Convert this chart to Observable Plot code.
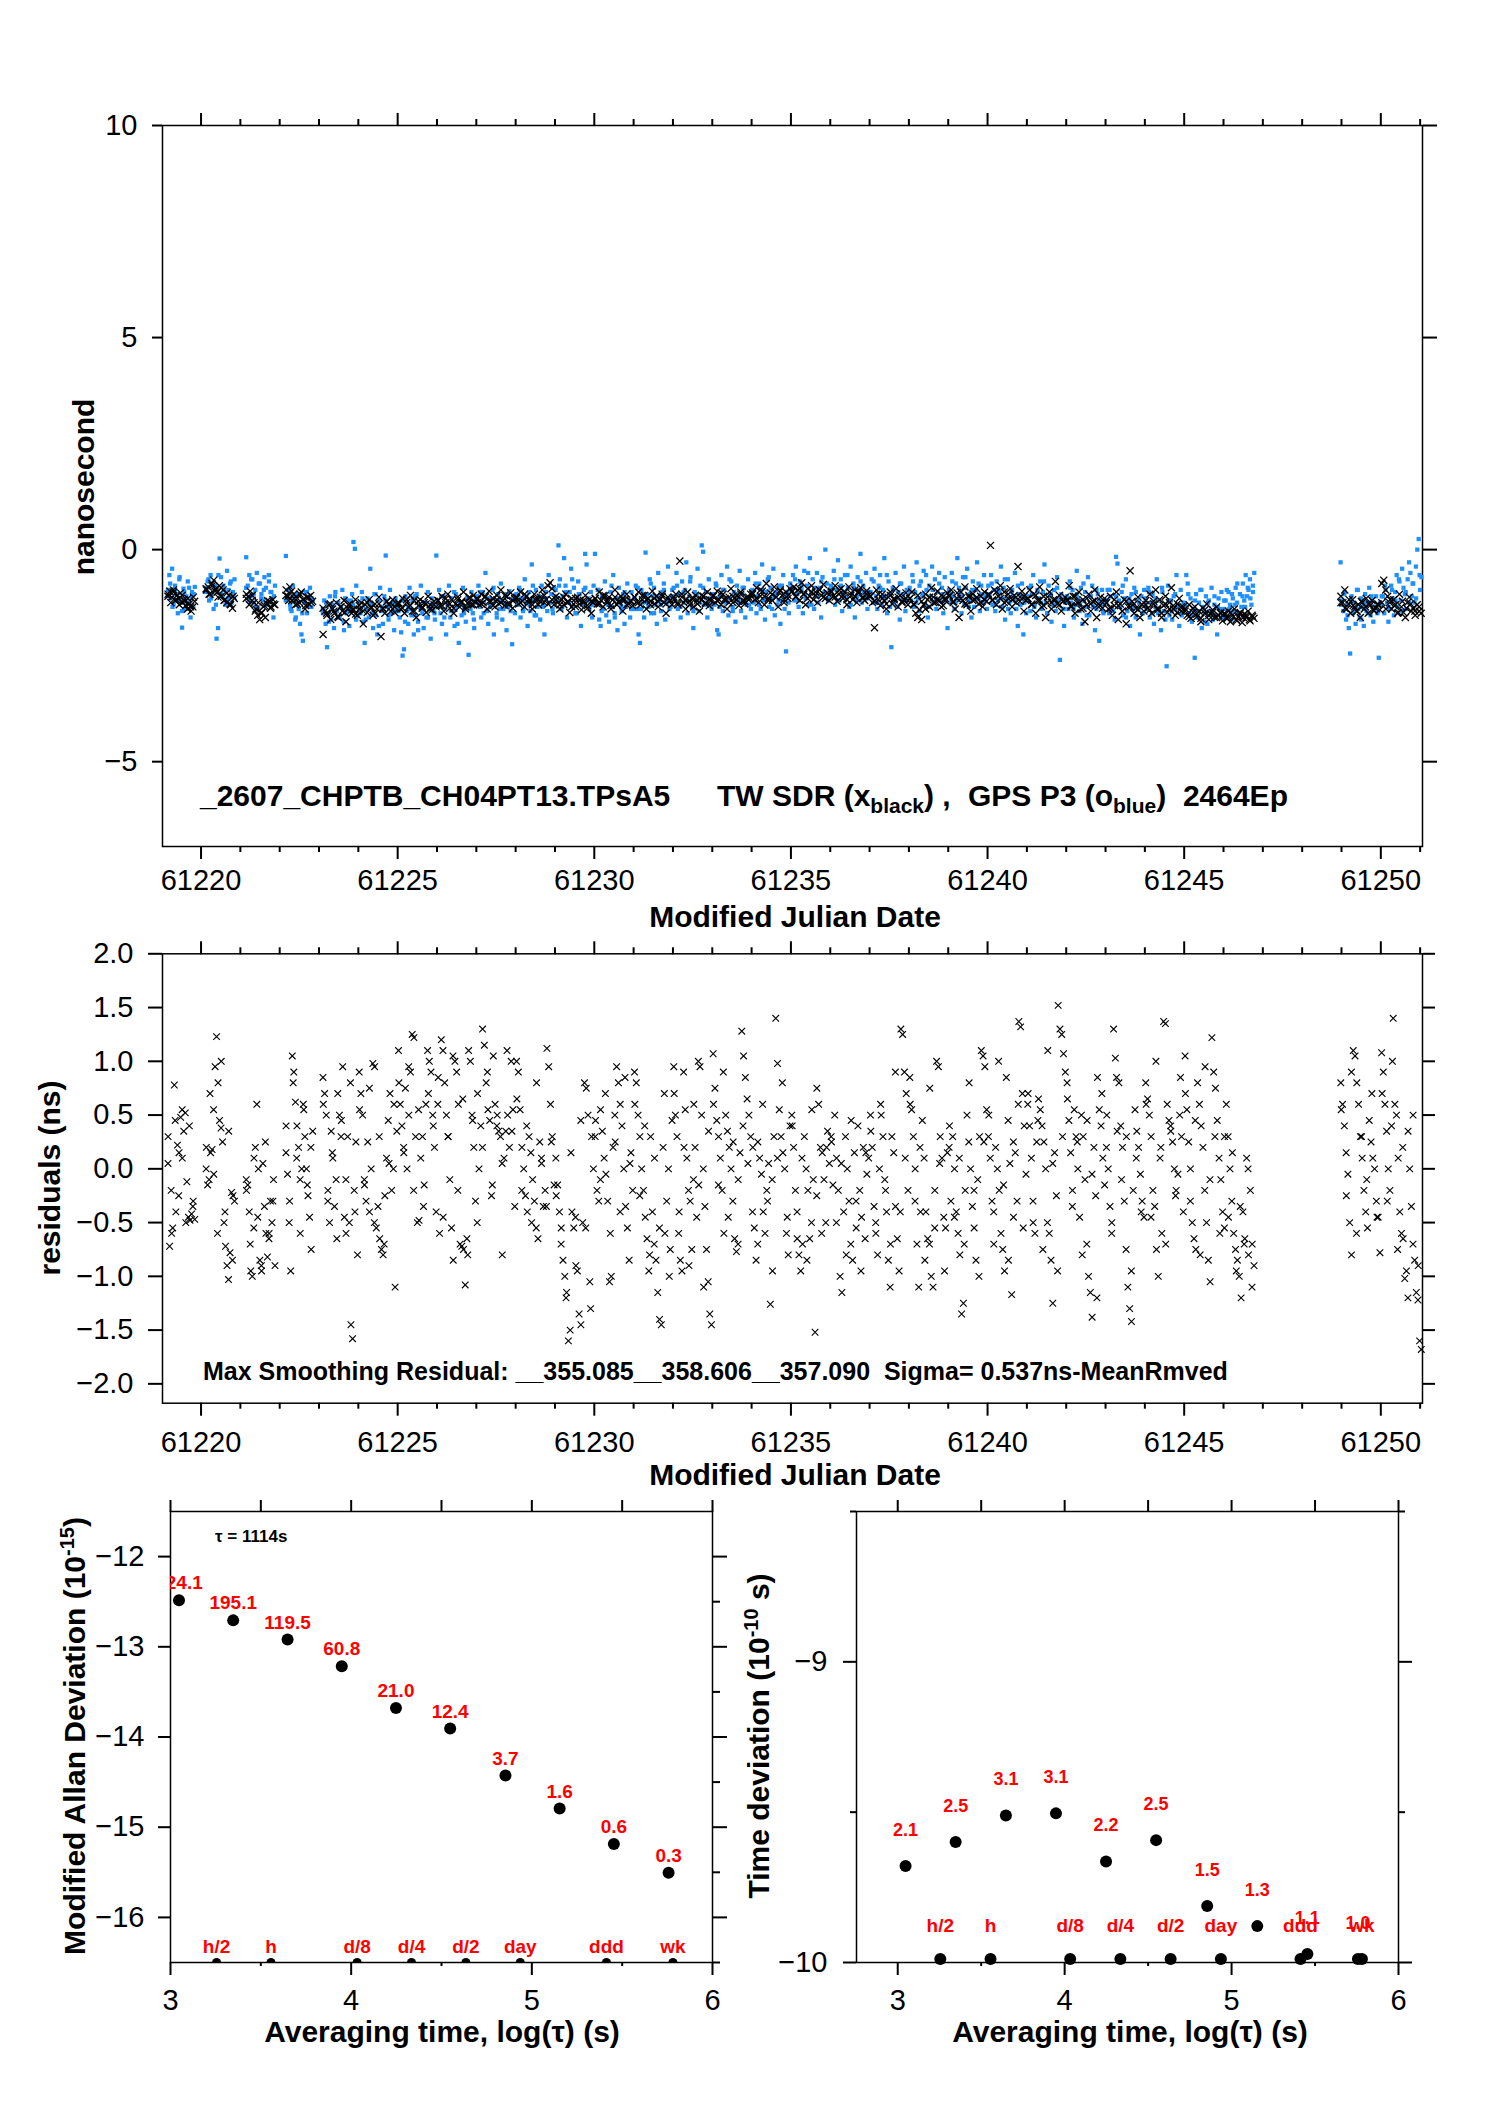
<!DOCTYPE html>
<html><head><meta charset="utf-8">
<script src="https://cdn.jsdelivr.net/npm/d3@7"></script>
<script src="https://cdn.jsdelivr.net/npm/@observablehq/plot@0.6"></script>
<style>
html,body{margin:0;padding:0;background:#fff;overflow:hidden}
#page{position:relative;width:1488px;height:2105px;font-family:"Liberation Sans",Arial,Helvetica,sans-serif;color:#000}
.t{position:absolute;white-space:pre;font-weight:bold;line-height:1}
.c{transform:translate(-50%,-50%)}
.r{transform:translate(-50%,-50%) rotate(-90deg)}
.sub{font-size:21px;position:relative;top:7px}
.sup{font-size:20px;position:relative;top:-11px}
</style></head><body><div id="page">
<div class="t" style="left:200px;top:781px;font-size:30px">_2607_CHPTB_CH04PT13.TPsA5</div>
<div class="t" style="left:717px;top:781px;font-size:30px">TW SDR (x<span class="sub">black</span>) ,</div>
<div class="t" style="left:968px;top:781px;font-size:30px">GPS P3 (o<span class="sub">blue</span>)  2464Ep</div>
<div class="t r" style="left:84px;top:487px;font-size:30px">nanosecond</div>
<div class="t c" style="left:795px;top:917px;font-size:30px">Modified Julian Date</div>
<div class="t" style="left:203px;top:1359px;font-size:25px">Max Smoothing Residual: __355.085__358.606__357.090  Sigma= 0.537ns-MeanRmved</div>
<div class="t r" style="left:50px;top:1178px;font-size:30px">residuals (ns)</div>
<div class="t c" style="left:795px;top:1475px;font-size:30px">Modified Julian Date</div>
<div class="t" style="left:215px;top:1528px;font-size:17px">τ = 1114s</div>
<div class="t r" style="left:75px;top:1736px;font-size:30px">Modified Allan Deviation (10<span class="sup">-15</span>)</div>
<div class="t r" style="left:759px;top:1736px;font-size:30px">Time deviation (10<span class="sup">-10</span> s)</div>
<div class="t c" style="left:442px;top:2032px;font-size:30px">Averaging time, log(τ) (s)</div>
<div class="t c" style="left:1130px;top:2032px;font-size:30px">Averaging time, log(τ) (s)</div>
</div>
<script>
// ---------------- DATA ----------------
// data segments (MJD): each chunk of readings spans [chunkStart, chunkEnd]
const chunkStart = [61219.14,61220.11,61221.13,61222.14,61223.08,61224,61225,61226,61227,61228,61229,61230,61231,61232,61233,61234,61235,61236,61237,61238,61239,61240,61241,61242,61243,61244,61245,61246,61248.96,61250];
const chunkEnd   = [61219.86,61220.87,61221.90,61222.86,61224,61225,61226,61227,61228,61229,61230,61231,61232,61233,61234,61235,61236,61237,61238,61239,61240,61241,61242,61243,61244,61245,61246,61246.80,61250,61251.05];

// TW SDR (black x), units of 0.01 ns
const twSdr = [
[-105,-98,-112,-95,-120,-108,-115,-102,-125,-118,-132,-140,-128,-145,-135,-122],
[-95,-88,-105,-80,-72,-92,-100,-85,-110,-95,-118,-125,-108,-130,-138,-115],
[-105,-112,-98,-120,-125,-140,-155,-165,-148,-135,-160,-128,-122,-135,-118,-130],
[-95,-110,-88,-120,-105,-130,-115,-125,-100,-118,-140,-112,-128,-108,-122],
[-200,-145,-155,-130,-165,-140,-150,-125,-160,-135,-145,-120,-170,-138,-128,-150,-142,-118,-155],
[-140,-125,-175,-130,-148,-118,-135,-155,-128,-140,-112,-205,-138,-150,-122,-130,-145,-118,-135,-128],
[-128,-140,-115,-150,-125,-135,-108,-145,-120,-160,-132,-118,-138,-125,-148,-110,-130,-142,-122,-135],
[-120,-132,-110,-145,-125,-105,-138,-118,-150,-128,-112,-135,-122,-100,-140,-126,-115,-130,-108,-124],
[-118,-130,-105,-125,-112,-140,-98,-122,-115,-135,-108,-128,-95,-120,-132,-110,-125,-102,-138,-116],
[-115,-128,-100,-122,-135,-110,-125,-118,-140,-105,-120,-130,-112,-95,-125,-118,-85,-78,-92,-130],
[-110,-125,-140,-118,-130,-105,-122,-148,-115,-128,-135,-112,-120,-142,-125,-108,-132,-118,-150,-124],
[-115,-128,-100,-120,-135,-108,-125,-112,-140,-118,-95,-130,-122,-110,-145,-118,-105,-128,-120,-132],
[-112,-125,-100,-130,-118,-108,-140,-115,-122,-98,-128,-110,-135,-118,-105,-125,-150,-112,-120,-130],
[-118,-105,-130,-27,-112,-125,-140,-100,-122,-115,-135,-108,-128,-145,-118,-110,-125,-100,-132,-120],
[-110,-125,-98,-118,-130,-105,-120,-140,-112,-92,-125,-115,-108,-132,-100,-120,-128,-112,-118,-105],
[-105,-118,-90,-125,-110,-98,-130,-80,-115,-102,-120,-88,-112,-135,-95,-108,-125,-100,-115,-92],
[-100,-88,-112,-95,-120,-78,-105,-130,-92,-110,-85,-118,-100,-125,-95,-108,-82,-115,-102,-120],
[-98,-110,-85,-122,-105,-92,-115,-100,-130,-88,-108,-118,-95,-125,-102,-90,-112,-120,-97,-108],
[-110,-125,-184,-95,-118,-132,-105,-120,-140,-112,-100,-128,-115,-92,-135,-108,-122,-118,-102,-130],
[-115,-100,-128,-150,-160,-142,-165,-130,-105,-118,-135,-90,-112,-125,-98,-120,-108,-132,-115,-102],
[-108,-95,-125,-140,-115,-160,-100,-120,-88,-130,-112,-145,-105,-118,-92,-128,-110,-135,-100,-122],
[-105,10,-118,-95,-130,-110,-85,-140,-100,-122,-115,-92,-135,-108,-125,-40,-112,-98,-145,-120],
[-115,-95,-130,-105,-150,-120,-88,-135,-110,-160,-125,-100,-140,-118,-75,-128,-108,-145,-122,-112],
[-120,-85,-135,-110,-150,-125,-100,-140,-118,-170,-130,-105,-145,-122,-95,-160,-128,-112,-138,-115],
[-125,-140,-110,-155,-132,-100,-165,-128,-145,-118,-175,-135,-50,-122,-150,-138,-112,-160,-130,-145],
[-120,-138,-105,-150,-128,-95,-142,-118,-160,-132,-110,-148,-125,-90,-140,-155,-128,-115,-145,-135],
[-140,-155,-130,-162,-148,-135,-158,-145,-170,-138,-150,-128,-165,-152,-142,-160,-135,-155,-148,-168],
[-150,-162,-145,-170,-155,-140,-165,-158,-148,-172,-152,-160,-145,-168,-155,-162],
[-110,-125,-95,-140,-128,-150,-118,-135,-145,-130,-160,-125,-140,-115,-150,-132,-120,-145,-138,-128,-142],
[-80,-72,-95,-110,-125,-140,-118,-130,-150,-105,-135,-148,-160,-125,-112,-145,-138,-155,-130,-145,-150]
];
// further TW SDR readings in the same chunks (0.01 ns)
const twSdrMore = [
[-110,-125,-100,-118,-130,-108,-122,-115,-135,-112],
[-92,-105,-85,-98,-112,-90,-120,-102,-128,-110],
[-115,-130,-108,-145,-125,-150,-132,-120,-138,-128],
[-108,-120,-98,-115,-128,-105,-118,-132,-112,-125],
[-138,-150,-128,-145,-158,-135,-148,-130,-142,-152],
[-132,-145,-125,-138,-150,-128,-140,-122,-135,-148],
[-125,-138,-118,-132,-145,-122,-135,-128,-140,-130],
[-120,-132,-115,-128,-138,-118,-125,-135,-112,-130],
[-115,-128,-110,-122,-132,-118,-125,-108,-130,-120],
[-112,-125,-105,-118,-130,-115,-122,-108,-128,-118],
[-118,-130,-112,-125,-135,-115,-128,-120,-138,-122],
[-115,-128,-108,-120,-132,-112,-125,-118,-130,-122],
[-112,-125,-108,-118,-130,-115,-122,-110,-128,-120],
[-112,-125,-105,-118,-130,-115,-120,-108,-128,-118],
[-108,-120,-102,-115,-125,-110,-118,-105,-122,-112],
[-102,-115,-95,-110,-120,-105,-112,-98,-118,-108],
[-98,-110,-92,-105,-115,-100,-108,-95,-112,-102],
[-100,-112,-95,-108,-118,-102,-110,-98,-115,-105],
[-110,-122,-105,-115,-128,-108,-118,-112,-125,-115],
[-115,-130,-108,-122,-140,-112,-125,-118,-135,-120],
[-110,-122,-102,-115,-128,-108,-120,-112,-125,-118],
[-108,-120,-100,-115,-125,-105,-118,-112,-122,-110],
[-115,-128,-108,-120,-132,-112,-125,-118,-130,-122],
[-118,-132,-110,-125,-138,-115,-128,-120,-135,-125],
[-125,-138,-118,-132,-145,-122,-135,-128,-142,-130],
[-130,-142,-122,-138,-150,-128,-140,-132,-148,-135],
[-145,-158,-138,-152,-162,-142,-155,-148,-160,-150],
[-152,-162,-148,-158,-168,-150,-160,-155,-165,-158],
[-125,-138,-118,-132,-145,-122,-135,-128,-142,-130],
[-125,-140,-118,-132,-148,-122,-138,-128,-145,-135]
];

// GPS P3 (blue), units of 0.01 ns
const gpsP3 = [
[-95,-60,-115,-45,-130,-85,-105,-150,-70,-120,-184,-92,-140,-110,-75,-125,-160,-100,-135,-88],
[-90,-75,-120,-60,-105,-140,-85,-210,-185,-21,-65,-110,-95,-130,-50,-115,-80,-125,-100,-70],
[-18,-85,-60,-110,-70,-125,-95,-55,-140,-80,-105,-120,-65,-90,-130,-75,-100,-115,-160,-85],
[-15,-110,-95,-130,-145,-85,-120,-160,-105,-140,-175,-200,-215,-125,-100,-150,-115,-90,-135,-120],
[-140,-120,-175,-230,-150,-110,-165,-130,-185,-100,-145,-125,-160,-135,-95,-170,-115,-150,-140,-180,-120,-105,18,2,-85,-155],
[-125,-150,-100,-170,-220,-140,-115,-160,-45,-130,-185,-105,-155,-200,-120,-90,-145,-175,-110,-14,-135,-165,-95,-150,-125,-190,-115,-140],
[-130,-160,-195,-250,-235,-110,-145,-175,-90,-140,-120,-200,-155,-105,-170,-135,-85,-150,-185,-125,-160,-100,-140,-210,-115,-145,-165,-14],
[-120,-95,-150,-175,-110,-140,-200,-130,-85,-160,-115,-145,-180,-105,-135,-220,-125,-155,-90,-140,-170,-115,-248,-130,-100,-150,-185,-120],
[-110,-85,-135,-160,-100,-125,-55,-145,-175,-115,-130,-95,-200,-120,-150,-105,-140,-80,-165,-125,-110,-190,-135,-98,-145,-223,-118,-150],
[-105,-130,-90,-160,-115,-140,-70,-125,-180,-100,-145,-35,-120,-155,-95,-135,-110,-165,-85,-130,-200,-115,-145,-60,-125,-105,-150,-90],
[-95,-120,10,-70,-140,-110,-20,-85,-160,-125,-100,-45,-135,-90,-115,-150,-75,-105,-180,-130,-95,-10,-35,-120,-140,-100,-160,-85],
[-10,-130,-95,-165,-180,-110,-140,-75,-155,-120,-170,-100,-135,-60,-150,-115,-190,-90,-125,-145,-105,-175,-135,-80,-120,-160,-100,-140],
[-115,-85,-140,-200,-220,-95,-125,-160,-7,-105,-135,-70,-150,-110,-90,-130,-175,-55,-120,-145,-100,-80,-165,-125,-40,-140,-110,-95],
[-90,-120,-55,-140,-105,-160,-75,-125,-95,-30,-150,-110,-65,-135,-185,-100,-120,-45,-145,-85,10,-5,-130,-100,-160,-70,-115,-140],
[-105,-130,-80,-190,-200,-110,-60,-145,-95,-125,-40,-155,-115,-75,-135,-100,-170,-85,-120,-50,-145,-105,-90,-160,-130,-70,-115,-140],
[-95,-125,-55,-150,-110,-80,-140,-35,-120,-165,-100,-70,-135,-90,-115,-45,-155,-105,-130,-85,-175,-120,-60,-140,-240,-100,-150,-80],
[-90,-60,-120,-40,-105,-135,-75,-95,-150,-50,-115,-85,-130,-20,-100,-70,-140,-110,-55,-125,-90,-160,-65,-105,0,-80,-120,-95],
[-85,-110,-50,-130,-95,-25,-120,-70,-145,-100,-60,-115,-90,-135,-40,-105,-80,-160,-120,-65,-95,-10,-125,-85,-110,-55,-140,-100],
[-100,-70,-125,-45,-110,-140,-85,-60,-130,-95,-20,-115,-150,-75,-105,-230,-90,-125,-55,-135,-100,-165,-80,-115,-40,-145,-95,-120],
[-90,-120,-60,-135,-100,-30,-115,-145,-75,-105,-50,-130,-95,-160,-85,-110,-40,-125,-70,-140,-100,-55,-120,-90,-150,-65,-115,-185],
[-95,-125,-55,-110,-140,-80,-20,-115,-100,-150,-65,-130,-90,-45,-120,-105,-160,-75,-135,-95,-30,-115,-145,-85,-125,-60,-110,-140],
[-85,-110,-60,-130,-95,-145,-75,-120,-100,-40,-135,-90,-165,-115,-70,-125,-150,-95,-110,-55,-140,-180,-105,-130,-80,-200,-115,-150],
[-120,-90,-145,-105,-60,-130,-160,-95,-115,-75,-140,-100,-35,-125,-150,-85,-110,-170,-130,-95,-145,-65,-120,-260,-105,-140,-180,-125],
[-110,-140,-75,-125,-95,-160,-130,-50,-115,-145,-90,-175,-120,-100,-135,-65,-155,-110,-85,-125,-190,-140,-105,-215,-130,-95,-150,-120],
[-125,-95,-150,-110,-140,-80,-165,-17,-33,-120,-135,-100,-155,-115,-70,-145,-125,-180,-105,-130,-90,-160,-120,-140,-200,-110,-150,-95],
[-115,-140,-90,-160,-125,-105,-175,-135,-70,-150,-120,-190,-100,-145,-130,-275,-85,-155,-120,-165,-110,-140,-60,-135,-180,-95,-150,-125],
[-130,-60,-80,-150,-115,-170,-140,-255,-105,-160,-125,-95,-185,-135,-150,-110,-175,-120,-145,-90,-165,-130,-155,-200,-115,-140,-100,-160],
[-140,-120,-155,-100,-130,-165,-115,-145,-90,-125,-150,-105,-135,-80,-120,-60,-110,-95,-70,-130,-85,-55],
[-30,-120,-145,-100,-165,-130,-185,-245,-110,-150,-125,-175,-95,-140,-160,-115,-135,-180,-105,-145,-125,-90,-155,-120,-170,-135,-110,-150,-255,-125],
[-130,-110,-150,-95,-125,-170,-140,-85,-115,-155,-100,-60,-135,-75,-120,-45,-90,-105,-140,-70,-30,-55,-110,-80,-125,-40,0,25,-95,-65]
];
// further GPS P3 readings in the same chunks (0.01 ns)
const gpsP3More = [
[-110,-80,-135,-95,-120,-65,-145,-100,-125,-90,-115,-105],
[-100,-70,-115,-90,-130,-60,-105,-85,-120,-95,-75,-110],
[-90,-120,-70,-105,-135,-80,-115,-95,-125,-60,-100,-110],
[-120,-95,-140,-110,-165,-130,-105,-150,-125,-100,-135,-115],
[-150,-125,-170,-140,-110,-160,-135,-190,-120,-145,-130,-165],
[-140,-115,-165,-125,-150,-105,-180,-135,-120,-155,-130,-145],
[-145,-120,-170,-135,-155,-110,-190,-140,-125,-160,-130,-150],
[-135,-110,-160,-125,-145,-100,-175,-130,-150,-115,-140,-165],
[-125,-100,-150,-115,-135,-90,-160,-120,-140,-105,-130,-110],
[-120,-95,-145,-110,-130,-85,-155,-115,-135,-100,-125,-140],
[-110,-85,-135,-100,-125,-70,-150,-105,-120,-90,-115,-130],
[-120,-95,-145,-110,-130,-85,-160,-115,-135,-100,-125,-140],
[-115,-90,-140,-105,-125,-80,-150,-110,-130,-95,-120,-135],
[-110,-85,-135,-100,-120,-75,-145,-105,-125,-90,-115,-130],
[-110,-85,-135,-95,-120,-70,-145,-105,-125,-90,-115,-130],
[-105,-80,-130,-95,-115,-65,-140,-100,-120,-85,-110,-125],
[-95,-70,-120,-85,-105,-55,-130,-90,-110,-75,-100,-115],
[-95,-70,-120,-85,-105,-60,-130,-90,-110,-75,-100,-115],
[-100,-75,-125,-90,-110,-60,-135,-95,-115,-80,-105,-120],
[-100,-75,-125,-85,-110,-60,-135,-95,-115,-80,-105,-120],
[-100,-75,-125,-90,-110,-65,-135,-95,-115,-80,-105,-120],
[-105,-80,-130,-95,-115,-70,-140,-100,-120,-85,-110,-125],
[-110,-85,-135,-100,-125,-75,-150,-105,-130,-90,-115,-140],
[-115,-90,-140,-105,-130,-80,-155,-110,-135,-95,-120,-145],
[-120,-95,-145,-110,-135,-85,-160,-115,-140,-100,-125,-150],
[-125,-100,-150,-115,-140,-90,-165,-120,-145,-105,-130,-155],
[-130,-105,-155,-120,-145,-95,-170,-125,-150,-110,-135,-160],
[-120,-95,-140,-105,-130,-80,-150,-110,-135,-90,-115,-100],
[-130,-105,-155,-120,-140,-95,-165,-125,-150,-110,-135,-145],
[-110,-85,-135,-95,-120,-70,-145,-100,-125,-80,-115,-60]
];

// smoothing residuals (black x, middle panel), units of 0.01 ns
const residuals = [
[5,-72,-20,-55,78,-40,22,15,48,55,35,52,-12,-45,-48,-42,-30,-47],
[0,-15,-10,15,18,55,95,123,80,45,38,25,-50,-72,-90,-103,-78,-22,-25,-30],
[-10,-15,-40,-95,-100,-55,20,60,0,-85,-90,5,-35,-60,-82,-65,-30,-50,-10,-90],
[15,-5,-50,-95,105,90,62,40,20,-10,0,60,30,0,-25,-45,-75,35],
[85,70,50,-20,-50,35,10,-35,-10,70,50,30,95,-45,-60,30,-50,-145,-158,-20,25,-80],
[90,70,50,-10,-30,25,-40,0,98,95,-55,-35,-65,-75,-80,-25,10,45,70,-20,0,-110,35],
[110,60,40,20,75,0,50,90,125,122,30,-50,-48,10,30,-15,60,110,100,90,50,20,-40],
[60,-60,120,110,80,50,30,-10,-55,-85,100,90,60,-70,-72,-75,-108,-65,110,100,50,20,-30],
[-50,0,40,130,115,80,55,45,-25,105,60,40,35,30,-80,10,35,50,20,100,55,-35],
[100,90,55,20,0,-25,-40,30,15,-10,-30,-55,-65,25,5,-35,-20,112,95,60,30,-15],
[10,-15,-40,-55,-85,-100,-115,-160,-150,-40,-55,-45,-95,-135,-145,-50,80,75,50,-105,30,0],
[30,-20,-30,55,35,10,-5,-30,-105,-100,20,50,95,80,60,40,0,-35,-55,-85,15,-20],
[90,80,50,30,0,-20,-45,-65,-95,30,-40,-70,-85,-115,-140,-145,20,-60,-30,0,-75,45],
[95,50,30,-60,-85,-95,90,55,10,-20,-30,-75,-10,20,-45,100,95,50,0,-35,-75,-105,-135,-145],
[107,75,45,30,10,-20,-60,50,35,20,0,-30,-65,-77,-10,15,128,105,85,65,50,30],
[-40,-55,-85,25,10,-5,-40,-60,-20,5,-126,-10,30,140,98,55,30,15,0,-60,-80,40],
[50,20,-20,-65,-80,-95,-70,30,0,-20,-65,-50,-10,-152,75,60,20,15,-10,-50,35,5],
[30,-15,50,10,-20,-100,-115,-40,30,0,-30,-70,-85,15,-55,40,-20,-45,20,-65,-5,10],
[50,20,-35,-60,-80,0,50,30,-10,-40,-85,-110,30,15,-35,-65,-95,130,125,90,70,-20],
[85,55,30,0,-70,-110,-40,45,10,-40,-65,-70,-100,-110,-20,100,95,30,10,-45,-55,15],
[20,-30,30,0,-40,-60,-80,-135,-125,-20,50,25,0,-35,-55,-85,-10,30,110,105,95,55],
[30,10,-30,-70,20,0,-20,-60,-75,-95,85,45,5,-117,-45,15,-30,137,132,70,40,-5],
[60,40,10,-50,-60,25,65,55,40,25,0,-50,-60,-85,-125,15,-25,152,130,125,107,90],
[80,45,15,-20,55,30,0,-45,50,30,-10,-70,-100,-115,-138,20,-25,85,55,40,10,-15],
[20,0,-35,-50,130,103,35,80,40,20,-30,-75,-110,-130,-142,-20,55,35,20,-5,-30,-45],
[80,65,50,30,-20,-35,-75,-100,10,-60,137,135,60,45,35,25,0,-20,-5,50,30,-40],
[105,55,25,0,-50,-65,-75,80,60,40,20,-20,-50,-85,-105,122,90,75,45,10,-10,-40],
[-55,60,30,0,-30,-60,-75,-85,-100,-120,-40,-65,10,-80,-20,-70,-90],
[80,60,40,15,-5,-50,-80,110,105,80,60,30,10,-20,-40,-55,45,25,10,0,-30,-45,-78],
[108,90,60,35,0,-20,40,140,60,50,10,-40,-60,-65,-102,-95,35,0,-35,-70,-85,-115,-122,-160,-168]
];
// further residual readings in the same chunks (0.01 ns)
const residualsMore = [
[30,-60,45,-25,10,-50,40,-35],
[20,70,-5,-60,100,-40,35,-85],
[-20,-70,10,-45,-95,25,-60,-30],
[40,-30,80,10,-60,55,-15,20],
[60,-30,15,-65,45,-10,80,-40],
[55,-15,75,-50,30,-70,5,60],
[80,15,95,-20,55,-35,70,40],
[85,-45,30,105,-20,65,-80,45],
[70,20,90,-15,50,5,110,35],
[65,-20,40,-50,80,10,-35,25],
[-25,-70,-120,15,-90,45,-55,-130],
[45,-10,70,-60,25,-40,85,5],
[60,-25,40,-80,10,-55,70,-100],
[70,-40,20,-90,60,-15,-110,35],
[60,-15,90,-45,25,-70,40,5],
[20,-70,60,-30,-95,10,80,-45],
[40,-40,10,-85,55,-25,-60,20],
[25,-50,5,-80,45,-30,-95,15],
[35,-50,60,-20,-70,90,-40,10],
[60,-30,20,-85,75,-55,5,-95],
[40,-45,10,-70,80,-20,-100,25],
[50,-40,100,-15,-85,25,60,-55],
[70,-30,45,-75,110,5,-95,30],
[65,-35,25,-80,45,-5,-120,70],
[50,-60,85,-10,30,-95,10,-40],
[60,-45,100,20,-70,40,-25,85],
[70,-30,45,-80,95,-10,30,-60],
[30,-45,15,-95,-35,-70,0,-110],
[55,-25,90,-60,30,-10,70,-45],
[70,-30,100,-75,20,-120,50,-90]
];

const mjdMajor = [61220,61225,61230,61235,61240,61245,61250];
const mjdMinor = [61221,61222,61223,61224,61226,61227,61228,61229,61231,61232,61233,61234,61236,61237,61238,61239,61241,61242,61243,61244,61246,61247,61248,61249,61251];

// stability panels
const logTau     = [3.047,3.347,3.648,3.948,4.248,4.548,4.854,5.154,5.454,5.757];
const modAdev    = [-12.485,-12.707,-12.919,-13.215,-13.678,-13.907,-14.426,-14.793,-15.185,-15.504];
const adevLabels = ["224.1","195.1","119.5","60.8","21.0","12.4","3.7","1.6","0.6","0.3"];
const tdev       = [-9.679,-9.599,-9.511,-9.504,-9.664,-9.593,-9.812,-9.879,-9.972,-9.988];
const tdevLabels = ["2.1","2.5","3.1","3.1","2.2","2.5","1.5","1.3","1.1","1.0"];
const tagLogTau  = [3.255,3.556,4.033,4.334,4.635,4.936,5.413,5.781];
const tagNames   = ["h/2","h","d/8","d/4","d/2","day","ddd","wk"];

// ---------------- BUILD ----------------
function expand(chunks, phase) {
  const out = [];
  chunks.forEach((vals, k) => {
    const a = chunkStart[k], b = chunkEnd[k], n = vals.length;
    vals.forEach((v, i) => out.push({t: a + (i + phase) * (b - a) / n, v: v / 100}));
  });
  return out;
}
const blackPts = expand(twSdr, 0.5).concat(expand(twSdrMore, 0.25));
const bluePts = expand(gpsP3, 0.5).concat(expand(gpsP3More, 0.25));
const residPts = expand(residuals, 0.5).concat(expand(residualsMore, 0.25));
const adevRows = logTau.map((x, i) => ({x, y: modAdev[i], label: adevLabels[i]}));
const tdevRows = logTau.map((x, i) => ({x, y: tdev[i], label: tdevLabels[i]}));
const tagRowsL = tagLogTau.map((x, i) => ({x, y: -16.5, label: tagNames[i]}));
const tagRowsR = tagLogTau.map((x, i) => ({x, y: -9.988, label: tagNames[i]}));

const F0 = d3.format(".0f"), F1 = d3.format(".1f"), NONE = () => "";
const style = {fontFamily: '"Liberation Sans", Arial, Helvetica, sans-serif', fontSize: "29px", background: "transparent", overflow: "visible", maxWidth: "none", color: "black"};
const SW = 2;

function mjdAxes(pad) {
  return [
    Plot.axisX({anchor: "bottom", ticks: mjdMajor, tickSize: 13, tickPadding: pad, tickFormat: d => String(d), strokeWidth: SW, label: null}),
    Plot.axisX({anchor: "bottom", ticks: mjdMinor, tickSize: 6, tickFormat: NONE, strokeWidth: SW, label: null}),
    Plot.axisX({anchor: "top", ticks: mjdMajor, tickSize: 13, tickFormat: NONE, strokeWidth: SW, label: null}),
    Plot.axisX({anchor: "top", ticks: mjdMinor, tickSize: 7, tickFormat: NONE, strokeWidth: SW, label: null})
  ];
}

const page = document.getElementById("page");
function place(el, left, top, w, h) {
  const d = document.createElement("div");
  d.style.cssText = `position:absolute;left:${left}px;top:${top}px;width:${w}px;height:${h}px;z-index:0`;
  d.appendChild(el);
  page.insertBefore(d, page.firstChild);
}

// top panel
const yTicksTop = [10, 5, 0, -5];
place(Plot.plot({
  width: 1488, height: 910, marginLeft: 162, marginRight: 66, marginTop: 125, marginBottom: 64,
  style,
  x: {domain: [61219.02, 61251.06], label: null},
  y: {domain: [-7, 10], label: null},
  marks: [
    Plot.frame({strokeWidth: 1.5}),
    Plot.dot(bluePts, {x: "t", y: "v", symbol: "square", r: 2.4, fill: "#1e90ff", stroke: null}),
    Plot.dot(blackPts, {x: "t", y: "v", symbol: "times", r: 3.3, stroke: "black", strokeWidth: 1.3}),
    ...mjdAxes(10),
    Plot.axisY({anchor: "left", ticks: yTicksTop, tickSize: 10, tickPadding: 15, tickFormat: F0, strokeWidth: SW, label: null}),
    Plot.axisY({anchor: "right", ticks: yTicksTop, tickSize: 14, tickFormat: NONE, strokeWidth: SW, label: null})
  ]
}), 0, 0, 1488, 910);

// residual panel
const yTicksRes = [2, 1.5, 1, 0.5, 0, -0.5, -1, -1.5, -2];
place(Plot.plot({
  width: 1488, height: 570, marginLeft: 162, marginRight: 66, marginTop: 53.3, marginBottom: 67.3,
  style,
  x: {domain: [61219.02, 61251.06], label: null},
  y: {domain: [-2.18, 2.0], label: null},
  marks: [
    Plot.frame({strokeWidth: 1.5}),
    Plot.dot(residPts, {x: "t", y: "v", symbol: "times", r: 3.1, stroke: "black", strokeWidth: 1.1}),
    ...mjdAxes(15),
    Plot.axisY({anchor: "left", ticks: yTicksRes, tickSize: 14, tickPadding: 15, tickFormat: F1, strokeWidth: SW, label: null}),
    Plot.axisY({anchor: "right", ticks: yTicksRes, tickSize: 12, tickFormat: NONE, strokeWidth: SW, label: null})
  ]
}), 0, 900, 1488, 570);

// modified Allan deviation panel
const xMaj = [3, 4, 5, 6], xMin = [3.5, 4.5, 5.5], xAll = [3, 3.5, 4, 4.5, 5, 5.5, 6];
const adevMaj = [-12, -13, -14, -15, -16], adevMin = [-12.5, -13.5, -14.5, -15.5, -16.5];
place(Plot.plot({
  width: 744, height: 600, marginLeft: 170, marginRight: 32, marginTop: 51, marginBottom: 98,
  style,
  x: {domain: [3, 6], label: null},
  y: {domain: [-16.5, -11.5], label: null},
  marks: [
    Plot.frame({strokeWidth: 1.5}),
    Plot.dot(tagRowsL, {x: "x", y: "y", r: 4.5, fill: "black", stroke: null, clip: true}),
    Plot.text(tagRowsL, {x: "x", y: "y", text: "label", dy: -16, fill: "red", fontWeight: "bold", fontSize: 19}),
    Plot.dot(adevRows, {x: "x", y: "y", r: 6, fill: "black", stroke: null}),
    Plot.text(adevRows, {x: "x", y: "y", text: "label", dy: -17, fill: "red", fontWeight: "bold", fontSize: 19, clip: true}),
    Plot.axisX({anchor: "bottom", ticks: xMaj, tickSize: 13, tickPadding: 14, tickFormat: F0, strokeWidth: SW, label: null}),
    Plot.axisX({anchor: "bottom", ticks: xMin, tickSize: 4, tickFormat: NONE, strokeWidth: SW, label: null}),
    Plot.axisX({anchor: "top", ticks: xAll, tickSize: 12, tickFormat: NONE, strokeWidth: SW, label: null}),
    Plot.axisY({anchor: "left", ticks: adevMaj, tickSize: 12, tickPadding: 14, tickFormat: F0, strokeWidth: SW, label: null}),
    Plot.axisY({anchor: "right", ticks: adevMaj, tickSize: 14, tickFormat: NONE, strokeWidth: SW, label: null}),
    Plot.axisY({anchor: "right", ticks: adevMin, tickSize: 7, tickFormat: NONE, strokeWidth: SW, label: null})
  ]
}), 0, 1460, 744, 600);

// time deviation panel
const tdevMaj = [-9, -10], tdevMin = [-9.5, -8.5];
place(Plot.plot({
  width: 744, height: 600, marginLeft: 112, marginRight: 90, marginTop: 51, marginBottom: 98,
  style,
  x: {domain: [2.753, 6], label: null},
  y: {domain: [-10, -8.5], label: null},
  marks: [
    Plot.frame({strokeWidth: 1.5}),
    Plot.dot(tagRowsR, {x: "x", y: "y", r: 6, fill: "black", stroke: null}),
    Plot.text(tagRowsR, {x: "x", y: "y", text: "label", dy: -33, fill: "red", fontWeight: "bold", fontSize: 19}),
    Plot.dot(tdevRows, {x: "x", y: "y", r: 6, fill: "black", stroke: null}),
    Plot.text(tdevRows, {x: "x", y: "y", text: "label", dy: -36, fill: "red", fontWeight: "bold", fontSize: 18}),
    Plot.axisX({anchor: "bottom", ticks: xMaj, tickSize: 13, tickPadding: 14, tickFormat: F0, strokeWidth: SW, label: null}),
    Plot.axisX({anchor: "bottom", ticks: xMin, tickSize: 4, tickFormat: NONE, strokeWidth: SW, label: null}),
    Plot.axisX({anchor: "top", ticks: xAll, tickSize: 12, tickFormat: NONE, strokeWidth: SW, label: null}),
    Plot.axisY({anchor: "left", ticks: tdevMaj, tickSize: 13, tickPadding: 16, tickFormat: F0, strokeWidth: SW, label: null}),
    Plot.axisY({anchor: "left", ticks: tdevMin, tickSize: 6, tickFormat: NONE, strokeWidth: SW, label: null}),
    Plot.axisY({anchor: "right", ticks: tdevMaj, tickSize: 13, tickFormat: NONE, strokeWidth: SW, label: null}),
    Plot.axisY({anchor: "right", ticks: tdevMin, tickSize: 6, tickFormat: NONE, strokeWidth: SW, label: null})
  ]
}), 744, 1460, 744, 600);

// keep HTML text above the SVGs
document.querySelectorAll("#page > .t").forEach(el => { el.style.zIndex = 2; });
</script>
</body></html>
